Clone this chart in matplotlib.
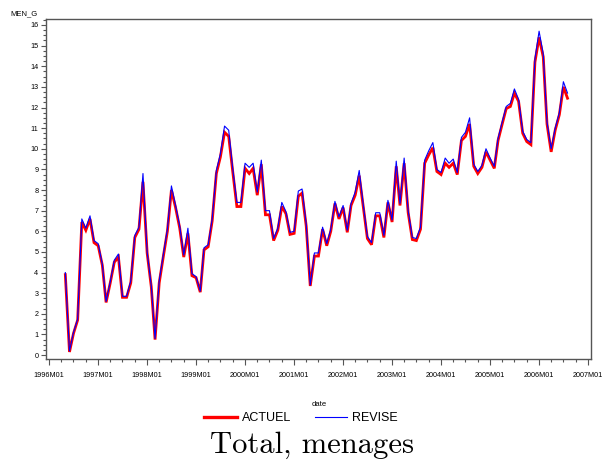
import matplotlib
matplotlib.use("Agg")
import matplotlib.pyplot as plt
import matplotlib.dates as mdates
import pandas as pd
from matplotlib.lines import Line2D
from matplotlib.ticker import MultipleLocator

start_month = "1996-05-01"

actuel = [
    3.9, 0.15, 1.05, 1.7, 6.45, 6.05, 6.6, 5.45,
    5.3, 4.35, 2.55, 3.5, 4.5, 4.75, 2.8, 2.8, 3.5, 5.7, 6.1, 8.4,
    4.95, 3.3, 0.75, 3.5, 4.75, 6.0, 8.0, 7.15, 6.15, 4.75, 5.9, 3.85,
    3.75, 3.05, 5.1, 5.25, 6.5, 8.8, 9.6, 10.8, 10.6, 8.9, 7.2, 7.2,
    9.05, 8.8, 9.05, 7.75, 9.25, 6.8, 6.8, 5.55, 6.05, 7.2, 6.85, 5.85,
    5.9, 7.7, 7.85, 6.25, 3.35, 4.8, 4.8, 6.1, 5.3, 6.0, 7.35, 6.6,
    7.15, 5.95, 7.25, 7.75, 8.7, 7.15, 5.65, 5.35, 6.75, 6.75, 5.7, 7.4,
    6.45, 9.15, 7.25, 9.3, 6.9, 5.6, 5.55, 6.1, 9.3, 9.7, 10.05, 8.9,
    8.75, 9.3, 9.1, 9.3, 8.75, 10.4, 10.6, 11.2, 9.15, 8.8, 9.1, 9.85,
    9.45, 9.05, 10.4, 11.2, 11.95, 12.05, 12.7, 12.3, 10.75, 10.35, 10.2, 14.2,
    15.4, 14.45, 11.2, 9.85, 10.9, 11.65, 13.0, 12.45,
]

revise = [
    4.0, 0.2, 1.1, 1.75, 6.6, 6.15, 6.75, 5.55,
    5.4, 4.4, 2.6, 3.55, 4.6, 4.9, 2.85, 2.85, 3.6, 5.8, 6.2, 8.8,
    5.0, 3.35, 0.8, 3.6, 4.85, 6.1, 8.2, 7.25, 6.25, 4.85, 6.15, 3.95,
    3.8, 3.1, 5.2, 5.35, 6.6, 8.95, 9.75, 11.1, 10.9, 9.05, 7.4, 7.4,
    9.3, 9.1, 9.3, 7.9, 9.45, 7.0, 7.0, 5.65, 6.15, 7.4, 6.95, 5.95,
    6.0, 7.95, 8.05, 6.35, 3.4, 4.95, 4.95, 6.2, 5.4, 6.1, 7.45, 6.7,
    7.25, 6.05, 7.35, 7.9, 8.95, 7.25, 5.75, 5.45, 6.9, 6.9, 5.8, 7.5,
    6.55, 9.4, 7.35, 9.55, 7.0, 5.7, 5.65, 6.2, 9.45, 9.9, 10.3, 9.0,
    8.85, 9.55, 9.3, 9.5, 8.85, 10.55, 10.8, 11.5, 9.25, 8.9, 9.2, 10.0,
    9.55, 9.15, 10.5, 11.3, 12.05, 12.2, 12.9, 12.4, 10.85, 10.45, 10.3, 14.35,
    15.7, 14.6, 11.3, 10.0, 11.0, 11.75, 13.25, 12.7,
]

dates = pd.date_range(start_month, periods=len(actuel), freq="MS")

plt.rcParams["font.family"] = ["Liberation Sans", "DejaVu Sans"]

fig = plt.figure(figsize=(6.03, 4.62), dpi=100)
ax = fig.add_axes([46 / 603, 1 - 359 / 462, (591 - 46) / 603, (359 - 19) / 462])

ax.plot(dates, actuel, color="#ff0000", lw=2.0, solid_joinstyle="miter")
ax.plot(dates, revise, color="#0000ff", lw=0.8)

ax.set_xlim(pd.Timestamp("1995-12-09"), pd.Timestamp("2007-01-23"))
ax.set_ylim(-0.19, 16.29)

ax.xaxis.set_major_locator(mdates.YearLocator())
ax.xaxis.set_minor_locator(mdates.MonthLocator(bymonth=[4, 7, 10]))
ax.xaxis.set_major_formatter(mdates.DateFormatter("%YM%m"))
ax.yaxis.set_major_locator(MultipleLocator(1))
ax.yaxis.set_minor_locator(MultipleLocator(0.25))

for s in ax.spines.values():
    s.set_color("#555555")
    s.set_linewidth(1.0)

ax.tick_params(axis="x", which="major", length=4.5, width=0.8, color="#555555",
               labelsize=5.2, pad=5)
ax.tick_params(axis="x", which="minor", length=2.5, width=0.8, color="#555555")
ax.tick_params(axis="y", which="major", length=3.5, width=0.8, color="#555555",
               labelsize=5.2, pad=2)
ax.tick_params(axis="y", which="minor", length=2, width=0.8, color="#555555")

fig.text(10 / 603, 1 - 14 / 462, "MEN_G", fontsize=5.5, va="center", ha="left")
fig.text(319 / 603, 1 - 405 / 462, "date", fontsize=5.5, va="center", ha="center")

handles = [Line2D([], [], color="#ff0000", lw=2.4),
           Line2D([], [], color="#0000ff", lw=0.8)]
fig.legend(handles, ["ACTUEL", "REVISE"], loc="center",
           bbox_to_anchor=(301 / 603, 1 - 418 / 462), ncol=2, frameon=False,
           fontsize=9, handlelength=2.6, handletextpad=0.4, columnspacing=1.9)

fig.text(312 / 603, 1 - 453 / 462, "Total, menages", fontsize=22,
         family="cmr10", ha="center", va="baseline")

fig.savefig("out.png", dpi=100)
